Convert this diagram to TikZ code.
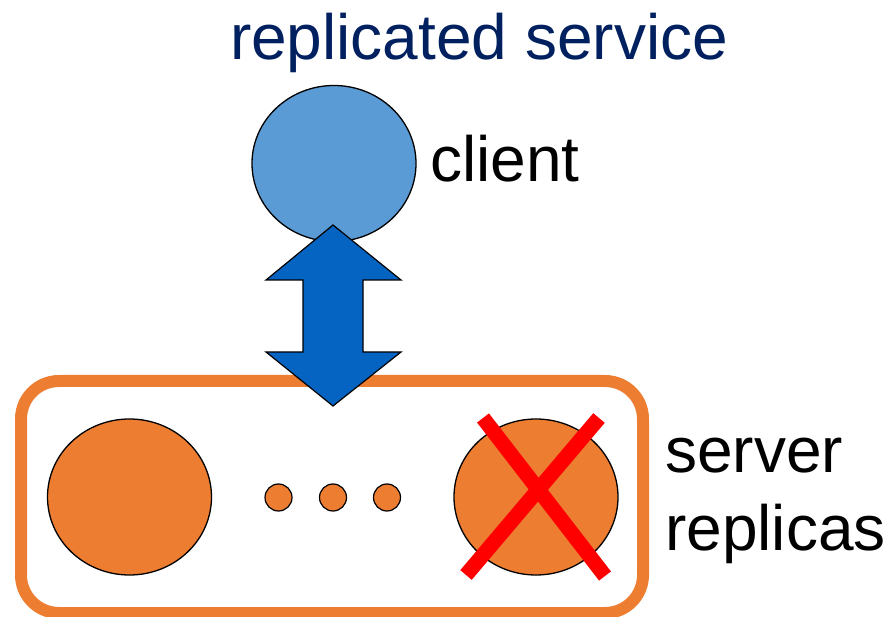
\documentclass[tikz,border=0pt]{standalone}
\usepackage{fontspec}
\setmainfont{Liberation Sans}
\usetikzlibrary{shapes.geometric}
\definecolor{titleblue}{RGB}{0,32,96}
\definecolor{clientblue}{RGB}{91,155,213}
\definecolor{arrowblue}{RGB}{5,99,193}
\definecolor{replorange}{RGB}{237,125,49}
\definecolor{crossred}{RGB}{255,0,0}
\begin{document}
\begin{tikzpicture}[x=1pt,y=-1pt,
  bigdisc/.style={ellipse,draw=black,line width=1.3pt,minimum width=164pt,minimum height=156pt,inner sep=0pt},
  smalldot/.style={ellipse,draw=black,line width=1.2pt,fill=replorange,minimum width=27pt,minimum height=27pt,inner sep=0pt},
  label/.style={inner sep=0pt,font=\fontsize{64}{77}\selectfont},
  crossline/.style={crossred,line width=15pt}]
\useasboundingbox (0,0) rectangle (892,617);
% server box
\draw[replorange,line width=12pt,rounded corners=38pt] (21,381) rectangle (643,613);
% title
\node[label,text=titleblue,anchor=base] (title) at (479,60) {replicated service};
% client
\node[bigdisc,fill=clientblue] (client) at (334,163.5) {};
\node[label,anchor=base west] (clientlbl) at (430,182) {client};
% replicas
\node[bigdisc,fill=replorange] (r1) at (129.5,497) {};
\node[smalldot] (d1) at (278.5,497.5) {};
\node[smalldot] (d2) at (333,497.5) {};
\node[smalldot] (d3) at (387,497.5) {};
\node[bigdisc,fill=replorange] (r2) at (536,497) {};
\node[label,anchor=base west] (srv1) at (665,473) {server};
\node[label,anchor=base west] (srv2) at (665,550) {replicas};
% double arrow
\draw[fill=arrowblue,draw=black,line width=1.2pt,line join=miter]
  (333,225) -- (401,280) -- (363,280) -- (363,352) -- (401,352) -- (333,406)
  -- (266,352) -- (303,352) -- (303,280) -- (266,280) -- cycle;
% red cross
\coordinate (xa) at (483,418);
\coordinate (xb) at (605,576);
\coordinate (xc) at (599,418);
\coordinate (xd) at (466,575);
\draw[crossline] (xa) -- (xb);
\draw[crossline] (xc) -- (xd);
\end{tikzpicture}
\end{document}
